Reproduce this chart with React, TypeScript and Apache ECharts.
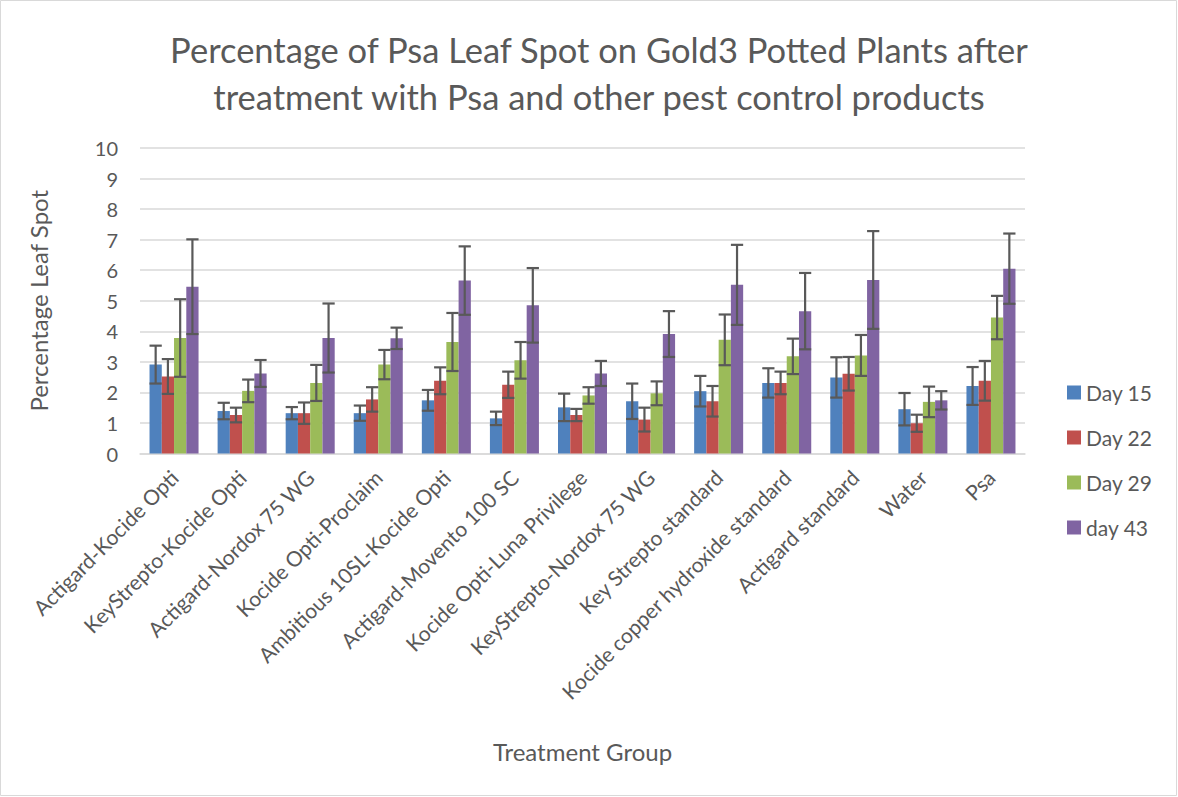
import React, { useEffect, useRef } from "react";
import * as echarts from "echarts";

const categories = [
  "Actigard-Kocide Opti",
  "KeyStrepto-Kocide Opti",
  "Actigard-Nordox 75 WG",
  "Kocide Opti-Proclaim",
  "Ambitious 10SL-Kocide Opti",
  "Actigard-Movento 100 SC",
  "Kocide Opti-Luna Privilege",
  "KeyStrepto-Nordox 75 WG",
  "Key Strepto standard",
  "Kocide copper hydroxide standard",
  "Actigard standard",
  "Water",
  "Psa",
];

const seriesNames = ["Day 15", "Day 22", "Day 29", "day 43"];

const day15 = [2.91, 1.39, 1.32, 1.32, 1.74, 1.15, 1.51, 1.71, 2.04, 2.31, 2.49, 1.45, 2.21];
const day22 = [2.52, 1.26, 1.32, 1.77, 2.38, 2.25, 1.26, 1.11, 1.71, 2.31, 2.61, 0.99, 2.38];
const day29 = [3.78, 2.05, 2.31, 2.91, 3.65, 3.05, 1.9, 1.97, 3.72, 3.18, 3.21, 1.69, 4.45];
const day43 = [5.46, 2.62, 3.78, 3.77, 5.66, 4.85, 2.62, 3.91, 5.52, 4.66, 5.68, 1.74, 6.05];

const err15 = [0.62, 0.27, 0.2, 0.25, 0.34, 0.22, 0.45, 0.58, 0.5, 0.48, 0.66, 0.53, 0.62];
const err22 = [0.57, 0.24, 0.35, 0.4, 0.44, 0.43, 0.2, 0.39, 0.5, 0.37, 0.55, 0.28, 0.65];
const err29 = [1.27, 0.37, 0.59, 0.48, 0.95, 0.6, 0.27, 0.39, 0.83, 0.58, 0.67, 0.5, 0.71];
const err43 = [1.55, 0.44, 1.13, 0.35, 1.12, 1.22, 0.41, 0.75, 1.31, 1.25, 1.6, 0.3, 1.15];

const colors = ["#4F81BD", "#C0504D", "#9BBB59", "#8064A2"];

const values = [day15, day22, day29, day43];
const errors = [err15, err22, err29, err43];

const CAT_GAP = 0.28;
const FONT = "Lato, 'Liberation Sans', sans-serif";
const TXT = "#595959";

export default function App() {
  const ref = useRef<HTMLDivElement>(null);
  useEffect(() => {
    if (!ref.current) return;
    const chart = echarts.init(ref.current, undefined, { renderer: "svg" });
    const barSeries = values.map((vals, i) => ({
      name: seriesNames[i],
      type: "bar",
      data: vals,
      barGap: "0%",
      barCategoryGap: CAT_GAP * 100 + "%",
      itemStyle: { color: colors[i] },
    }));
    const errSeries = errors.map((errs, i) => ({
      name: seriesNames[i] + " err",
      type: "custom",
      z: 5,
      data: errs.map((e, j) => [j, values[i][j], e]),
      renderItem: (params: any, api: any) => {
        const c = api.value(0);
        const v = api.value(1);
        const e = api.value(2);
        const band = api.size([1, 0])[0];
        const bw = (band * (1 - CAT_GAP)) / 4;
        const p = api.coord([c, v]);
        const x = p[0] + (i - 1.5) * bw;
        const top = api.coord([c, v + e])[1];
        const bot = api.coord([c, v - e])[1];
        const h = bw / 2;
        const style = { stroke: "#595959", lineWidth: 2.2 };
        return {
          type: "group",
          children: [
            { type: "line", shape: { x1: x, y1: top, x2: x, y2: bot }, style },
            { type: "line", shape: { x1: x - h, y1: top, x2: x + h, y2: top }, style },
            { type: "line", shape: { x1: x - h, y1: bot, x2: x + h, y2: bot }, style },
          ],
        };
      },
    }));
    chart.setOption({
      animation: false,
      backgroundColor: "#ffffff",
      textStyle: { fontFamily: FONT },
      title: {
        text: "Percentage of Psa Leaf Spot on Gold3 Potted Plants after\ntreatment with Psa and other pest control products",
        left: 594,
        textAlign: "center",
        top: 21,
        textStyle: {
          fontFamily: FONT,
          fontSize: 34.5,
          fontWeight: "normal",
          color: TXT,
          lineHeight: 47,
        },
      },
      legend: {
        data: seriesNames,
        orient: "vertical",
        left: 1062,
        top: 377,
        itemWidth: 14,
        itemHeight: 14,
        itemGap: 24,
        itemStyle: { borderWidth: 0 },
        icon: "rect",
        textStyle: { fontFamily: FONT, fontSize: 21, color: TXT },
      },
      grid: { left: 140, right: 153, top: 148, bottom: 343.5, containLabel: false },
      xAxis: {
        type: "category",
        data: categories,
        name: "Treatment Group",
        nameLocation: "middle",
        nameGap: 286,
        nameTextStyle: { fontFamily: FONT, fontSize: 24, color: TXT },
        axisLine: { lineStyle: { color: "#D9D9D9", width: 1.5 } },
        axisTick: { show: false },
        axisLabel: {
          rotate: 45,
          interval: 0,
          fontFamily: FONT,
          fontSize: 21,
          color: TXT,
          margin: 20,
        },
      },
      yAxis: {
        type: "value",
        min: 0,
        max: 10,
        interval: 1,
        name: "Percentage Leaf Spot",
        nameLocation: "middle",
        nameGap: 90,
        nameTextStyle: { fontFamily: FONT, fontSize: 24, color: TXT },
        axisLine: { show: false },
        axisTick: { show: false },
        axisLabel: { fontFamily: FONT, fontSize: 20, color: TXT, margin: 22 },
        splitLine: { lineStyle: { color: "#D9D9D9", width: 1.5 } },
      },
      graphic: [
        {
          type: "rect",
          shape: { x: 0.5, y: 0.5, width: 1176, height: 795 },
          style: { fill: "none", stroke: "#D9D9D9", lineWidth: 1 },
          silent: true,
        },
      ],
      series: [...barSeries, ...errSeries],
    });
    return () => chart.dispose();
  }, []);
  return (
    <div
      ref={ref}
      style={{ position: "fixed", left: 0, top: 0, width: 1178, height: 797 }}
    />
  );
}
